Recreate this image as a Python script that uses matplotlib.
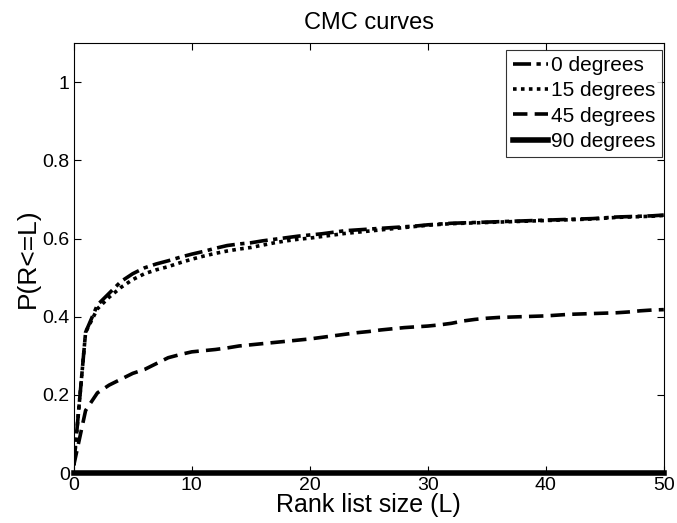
import matplotlib
matplotlib.use("Agg")
import matplotlib.pyplot as plt
import numpy as np

plt.rcParams['font.family'] = ['Liberation Sans', 'DejaVu Sans']

rank = list(range(0, 51))
deg0 = [0.02, 0.36, 0.43, 0.46, 0.49, 0.51, 0.525, 0.535, 0.543, 0.552, 0.56,
        0.567, 0.575, 0.582, 0.586, 0.589, 0.594, 0.598, 0.602, 0.606, 0.609,
        0.612, 0.616, 0.62, 0.622, 0.624, 0.626, 0.628, 0.63, 0.632, 0.635,
        0.637, 0.639, 0.64, 0.641, 0.642, 0.643, 0.644, 0.645, 0.646, 0.647,
        0.648, 0.649, 0.65, 0.651, 0.653, 0.655, 0.656, 0.657, 0.658, 0.66]
deg15 = [0.02, 0.36, 0.42, 0.45, 0.475, 0.495, 0.51, 0.52, 0.528, 0.538, 0.547,
         0.555, 0.562, 0.568, 0.573, 0.577, 0.583, 0.589, 0.594, 0.598, 0.601,
         0.605, 0.609, 0.613, 0.616, 0.619, 0.622, 0.625, 0.628, 0.631, 0.634,
         0.636, 0.638, 0.639, 0.64, 0.641, 0.642, 0.643, 0.644, 0.645, 0.646,
         0.647, 0.648, 0.649, 0.65, 0.652, 0.654, 0.655, 0.656, 0.657, 0.659]
deg45 = [0.02, 0.16, 0.205, 0.225, 0.24, 0.255, 0.265, 0.28, 0.295, 0.303, 0.31,
         0.313, 0.316, 0.32, 0.325, 0.328, 0.331, 0.334, 0.337, 0.34, 0.343,
         0.347, 0.351, 0.355, 0.359, 0.362, 0.366, 0.369, 0.372, 0.374, 0.376,
         0.379, 0.383, 0.389, 0.393, 0.396, 0.398, 0.399, 0.4, 0.401, 0.402,
         0.404, 0.406, 0.407, 0.408, 0.409, 0.41, 0.412, 0.415, 0.417, 0.418]
deg90 = [0.0] * 51
labels = ['0 degrees', '15 degrees', '45 degrees', '90 degrees']
xticks = [0, 10, 20, 30, 40, 50]
yticks = [0, 0.2, 0.4, 0.6, 0.8, 1]
ytick_labels = ['0', '0.2', '0.4', '0.6', '0.8', '1']

fig = plt.figure(figsize=(6.77, 5.23), dpi=100)
ax = fig.add_axes([0.109, 0.0956, 0.8715, 0.822])

ax.plot(rank, deg0, color='black', lw=2.6, linestyle=(0, (5, 1.5, 1.2, 1.5)), label=labels[0])
ax.plot(rank, deg15, color='black', lw=2.6, linestyle=(0, (1, 1.2)), label=labels[1])
ax.plot(rank, deg45, color='black', lw=2.6, linestyle=(0, (4, 2)), label=labels[2])
ax.plot(rank, deg90, color='black', lw=4, linestyle='-', label=labels[3], clip_on=False, zorder=5)

ax.set_xlim(0, 50)
ax.set_ylim(0, 1.1)
ax.set_xticks(xticks)
ax.set_yticks(yticks)
ax.set_yticklabels(ytick_labels)
ax.tick_params(direction='in', top=True, right=True, labelsize=14, length=5, pad=3)
for s in ax.spines.values():
    s.set_linewidth(0.8)

ax.set_title('CMC curves', fontsize=17, pad=10)
ax.set_xlabel('Rank list size (L)', fontsize=18, labelpad=-1)
ax.set_ylabel('P(R<=L)', fontsize=19, labelpad=2)

leg = ax.legend(loc='upper right', bbox_to_anchor=(0.9966, 0.984), fontsize=15,
                frameon=True, fancybox=False, edgecolor='black',
                handlelength=1.7, handletextpad=0.15, borderpad=0.3,
                labelspacing=0.3, borderaxespad=0.0)
leg.get_frame().set_linewidth(0.8)

fig.savefig('out.png', dpi=100)
